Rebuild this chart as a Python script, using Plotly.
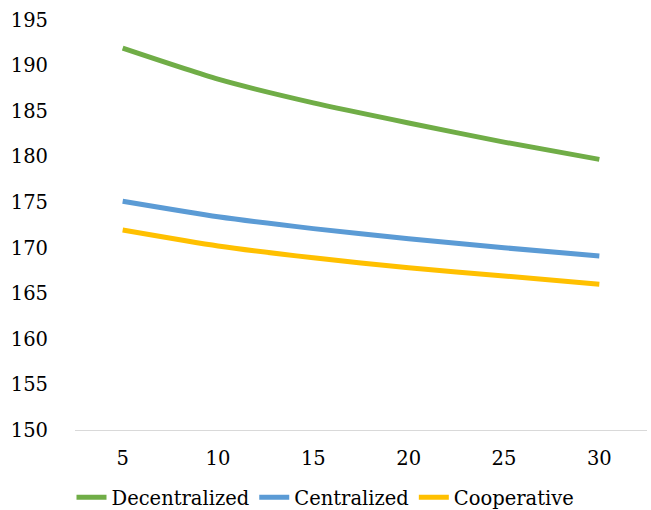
import plotly.graph_objects as go

categories = ["5", "10", "15", "20", "25", "30"]
decentralized = [191.9, 188.5, 185.9, 183.7, 181.6, 179.7]
centralized = [175.1, 173.4, 172.1, 171.0, 170.0, 169.1]
cooperative = [171.95, 170.2, 168.9, 167.8, 166.9, 166.0]
y_ticks = [150, 155, 160, 165, 170, 175, 180, 185, 190, 195]

series = [
    ("Decentralized", decentralized, "#70AD47"),
    ("Centralized", centralized, "#5B9BD5"),
    ("Cooperative", cooperative, "#FFC000"),
]

fig = go.Figure()
for name, values, color in series:
    fig.add_trace(go.Scatter(
        x=categories, y=values, name=name, mode="lines",
        line=dict(color=color, width=5, shape="spline", smoothing=0.6),
    ))

font = dict(family="DejaVu Serif", size=19.5, color="#000000")

fig.update_layout(
    width=651, height=510,
    margin=dict(l=75, r=4, t=20, b=80, autoexpand=False),
    paper_bgcolor="white", plot_bgcolor="white",
    font=font,
    showlegend=True,
    legend=dict(orientation="h", xref="container", x=0.5, xanchor="center",
                y=-0.165, yanchor="middle", font=font, itemwidth=30, tracegroupgap=0),
)
fig.update_xaxes(
    type="category", range=[-0.5, 5.5], showgrid=False, showline=True,
    linecolor="#D9D9D9", linewidth=1, ticks="", tickfont=font, zeroline=False,
    ticklabelstandoff=11,
)
fig.update_yaxes(
    range=[150, 195], tickvals=y_ticks, showgrid=False, showline=False, zeroline=False,
    ticks="", tickfont=font, ticklabelstandoff=26,
)

fig.write_html("out.html")
